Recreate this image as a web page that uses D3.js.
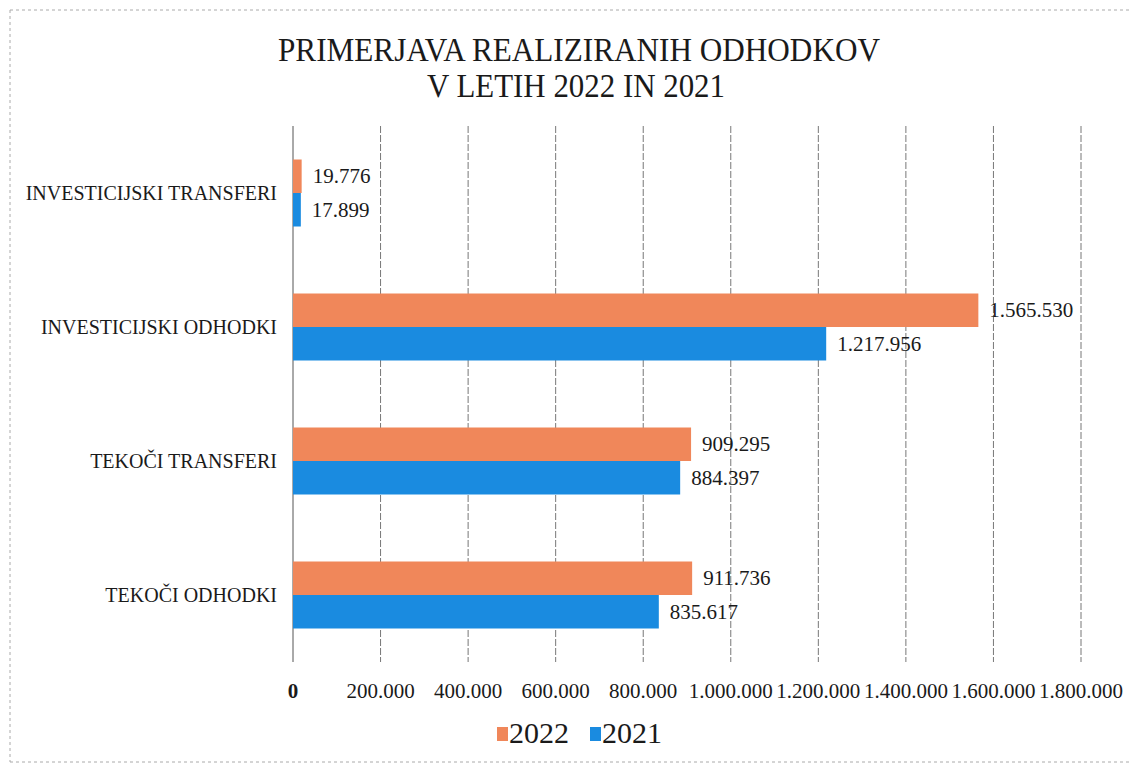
<!DOCTYPE html>
<html>
<head>
<meta charset="utf-8">
<script src="https://cdn.jsdelivr.net/npm/d3@7"></script>
<style>
  body { margin: 0; background: #fff; }
  text { font-family: "Liberation Serif", "Times New Roman", "DejaVu Serif", serif; fill: #1a1a1a; }
</style>
</head>
<body>
<div id="chart"></div>
<script>
// data
const categories = ["INVESTICIJSKI TRANSFERI", "INVESTICIJSKI ODHODKI", "TEKOČI TRANSFERI", "TEKOČI ODHODKI"];
const series = ["2022", "2021"];
const values2022 = [19776, 1565530, 909295, 911736];
const values2021 = [17899, 1217956, 884397, 835617];
const tickValues = [0, 200000, 400000, 600000, 800000, 1000000, 1200000, 1400000, 1600000, 1800000];
const colors = {"2022": "#f0875a", "2021": "#1a8be0"};

const width = 1137, height = 767;
const fmt = v => d3.format(",")(v).replace(/,/g, ".");

const svg = d3.select("#chart").append("svg")
    .attr("width", width)
    .attr("height", height);

// scanned page frame
svg.append("path")
    .attr("d", "M10,10 H1130 M10,10 V762 M10,762 H1130")
    .attr("fill", "none")
    .attr("stroke", "#aaa")
    .attr("stroke-width", 1)
    .attr("stroke-dasharray", "3,3");

// title
svg.append("text")
    .attr("x", 579).attr("y", 61)
    .attr("text-anchor", "middle")
    .attr("font-size", 33)
    .attr("textLength", 602)
    .attr("lengthAdjust", "spacingAndGlyphs")
    .text("PRIMERJAVA REALIZIRANIH  ODHODKOV");
svg.append("text")
    .attr("x", 576).attr("y", 97)
    .attr("text-anchor", "middle")
    .attr("font-size", 33)
    .attr("textLength", 298)
    .attr("lengthAdjust", "spacingAndGlyphs")
    .text("V LETIH 2022 IN 2021");

// scales
let x = d3.scaleLinear()
    .domain([0, 1800000])
    .range([293, 1081]);

let y = d3.scaleBand()
    .domain(categories)
    .range([126, 662])
    .paddingInner(0.5)
    .paddingOuter(0.25);

let ySub = d3.scaleBand()
    .domain(series)
    .range([0, y.bandwidth()]);

// gridlines
svg.append("g")
    .selectAll("line")
    .data(tickValues)
    .enter().append("line")
    .attr("x1", d => x(d)).attr("x2", d => x(d))
    .attr("y1", 126).attr("y2", 662)
    .attr("stroke", d => d === 0 ? "#555" : "#777")
    .attr("stroke-width", 1)
    .attr("stroke-dasharray", d => d === 0 ? null : "7,2");

// x axis labels
svg.append("g")
    .selectAll("text")
    .data(tickValues)
    .enter().append("text")
    .attr("x", d => x(d))
    .attr("y", 698)
    .attr("text-anchor", "middle")
    .attr("font-size", 21)
    .attr("font-weight", d => d === 0 ? "bold" : null)
    .text(d => fmt(d));

// category labels
svg.append("g")
    .selectAll("text")
    .data(categories)
    .enter().append("text")
    .attr("x", 277)
    .attr("y", d => y(d) + y.bandwidth() / 2 + 7)
    .attr("text-anchor", "end")
    .attr("font-size", 20)
    .text(d => d);

// bars
const rows = categories.map((c, i) => ({cat: c, "2022": values2022[i], "2021": values2021[i]}));

let groups = svg.append("g")
    .selectAll("g")
    .data(rows)
    .enter().append("g")
    .attr("transform", d => `translate(0, ${y(d.cat)})`);

groups.selectAll("rect")
    .data(d => series.map(s => ({s: s, v: d[s]})))
    .enter().append("rect")
    .attr("x", x(0))
    .attr("y", d => ySub(d.s))
    .attr("width", d => x(d.v) - x(0))
    .attr("height", ySub.bandwidth())
    .attr("fill", d => colors[d.s]);

groups.selectAll("text")
    .data(d => series.map(s => ({s: s, v: d[s]})))
    .enter().append("text")
    .attr("x", d => x(d.v) + 11)
    .attr("y", d => ySub(d.s) + ySub.bandwidth() / 2 + 7)
    .attr("font-size", 21)
    .text(d => fmt(d.v));

// legend
const legend = svg.append("g");
const legendX = [497, 590];
series.forEach((s, i) => {
    legend.append("rect")
        .attr("x", legendX[i]).attr("y", 727)
        .attr("width", 11).attr("height", 14)
        .attr("fill", colors[s]);
    legend.append("text")
        .attr("x", legendX[i] + 12).attr("y", 743)
        .attr("font-size", 29)
        .attr("textLength", 60)
        .attr("lengthAdjust", "spacingAndGlyphs")
        .text(s);
});
</script>
</body>
</html>
